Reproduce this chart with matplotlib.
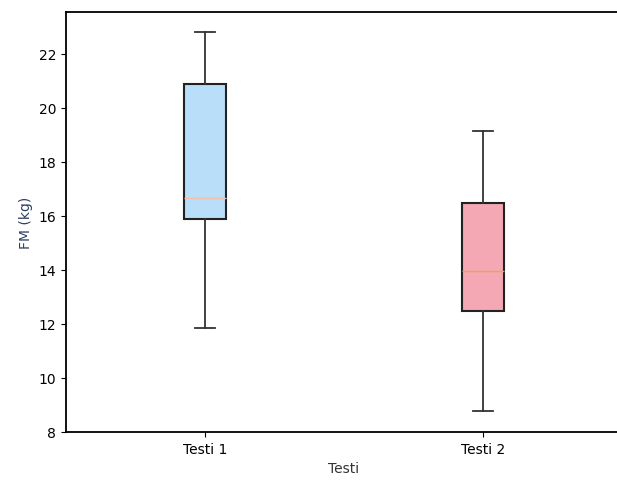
import matplotlib.pyplot as plt

# Wartosci (FM w kg)
etykiety = ["Testi 1", "Testi 2"]
dolne_wasy = [11.84, 8.76]
q1 = [15.87, 12.48]
mediany = [16.68, 13.96]
q3 = [20.90, 16.49]
gorne_wasy = [22.80, 19.14]
kolory = ["#b8defa", "#f3a8b3"]

statystyki = []
for i in range(len(etykiety)):
    statystyki.append({
        "label": etykiety[i],
        "whislo": dolne_wasy[i],
        "q1": q1[i],
        "med": mediany[i],
        "q3": q3[i],
        "whishi": gorne_wasy[i],
        "fliers": [],
    })

fig = plt.figure(figsize=(6.17, 4.81), dpi=100)
ax = fig.add_axes([0.107, 0.1, 0.901, 0.873])

bp = ax.bxp(statystyki, patch_artist=True,
            boxprops=dict(linewidth=1.5, edgecolor="#222222"),
            whiskerprops=dict(linewidth=1.3, color="#333333"),
            capprops=dict(linewidth=1.3, color="#333333"),
            medianprops=dict(linewidth=1.0, color="#f5a050"))

for patch, kolor in zip(bp["boxes"], kolory):
    patch.set_facecolor(kolor)
bp["medians"][0].set_color("#f0c0a8")

ax.set_xlim(0.5, 2.5)
ax.set_ylim(8, 23.55)
ax.set_yticks([8, 10, 12, 14, 16, 18, 20, 22])
ax.tick_params(labelsize=10)
for s in ax.spines.values():
    s.set_linewidth(1.3)
ax.spines["right"].set_visible(False)

ax.set_xlabel("Testi", fontsize=10, color="#333333")
ax.set_ylabel("FM (kg)", fontsize=10, color="#2f4060")

fig.savefig("out.png", dpi=100)
